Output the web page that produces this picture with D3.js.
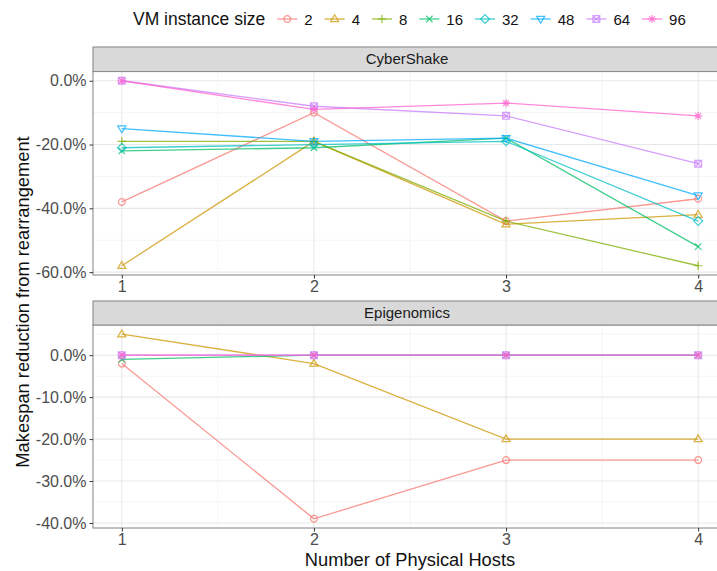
<!DOCTYPE html>
<html>
<head>
<meta charset="utf-8">
<script src="https://cdn.jsdelivr.net/npm/d3@7"></script>
<style>
  body { margin: 0; background: #fff; }
  text { font-family: "Liberation Sans", Arial, sans-serif; }
</style>
</head>
<body>
<svg id="chart" width="717" height="571"></svg>
<script>
  // values, in percent (null = no point drawn)
  var hosts = [1, 2, 3, 4];
  var vmSizes = ['2', '4', '8', '16', '32', '48', '64', '96'];
  var panelNames = ['CyberShake', 'Epigenomics'];
  // one row per VM size, one column per host count
  var cyberShakeValues = [
    [-38, -10, -44, -37],
    [-58, -19, -45, -42],
    [-19, -19, -44, -58],
    [-22, -21, -18, -52],
    [-21, -20, -19, -44],
    [-15, -19, -18, -36],
    [0, -8, -11, -26],
    [0, -9, -7, -11]
  ];
  var epigenomicsValues = [
    [-2, -39, -25, -25],
    [5, -2, -20, -20],
    [null, null, null, null],
    [-1, 0, 0, 0],
    [null, null, null, null],
    [null, null, null, null],
    [0, 0, 0, 0],
    [0, 0, 0, 0]
  ];
  var cyberShakeTicks = [0, -20, -40, -60];
  var epigenomicsTicks = [0, -10, -20, -30, -40];

  var svg = d3.select('#chart');
  var palette = ['#F8766D', '#CD9600', '#7CAE00', '#00BE67', '#00BFC4', '#00A9FF', '#C77CFF', '#FF61CC'];
  var color = d3.scaleOrdinal().domain(vmSizes).range(palette);

  var left = 93, right = 727;
  var panels = [
    { name: panelNames[0], values: cyberShakeValues, ticks: cyberShakeTicks, minor: 20, stripTop: 47, top: 71.5, bottom: 275 },
    { name: panelNames[1], values: epigenomicsValues, ticks: epigenomicsTicks, minor: 10, stripTop: 301, top: 325, bottom: 528 }
  ];

  var x = d3.scaleLinear().domain([1 - 0.15, 4 + 0.15]).range([left, right]);

  // ggplot style point shapes 1..8
  function shapePath(i) {
    var s = 3.4, p, q;
    switch (i) {
      case 0: return 'M' + (-s) + ',0a' + s + ',' + s + ' 0 1,0 ' + (2 * s) + ',0a' + s + ',' + s + ' 0 1,0 ' + (-2 * s) + ',0';
      case 1: p = s * 1.25; return 'M0,' + (-p) + 'L' + (p * 0.95) + ',' + (p * 0.62) + 'L' + (-p * 0.95) + ',' + (p * 0.62) + 'Z';
      case 2: p = s * 1.25; return 'M' + (-p) + ',0H' + p + 'M0,' + (-p) + 'V' + p;
      case 3: p = s * 0.95; return 'M' + (-p) + ',' + (-p) + 'L' + p + ',' + p + 'M' + (-p) + ',' + p + 'L' + p + ',' + (-p);
      case 4: p = s * 1.3; return 'M0,' + (-p) + 'L' + p + ',0L0,' + p + 'L' + (-p) + ',0Z';
      case 5: p = s * 1.25; return 'M0,' + p + 'L' + (p * 0.95) + ',' + (-p * 0.62) + 'L' + (-p * 0.95) + ',' + (-p * 0.62) + 'Z';
      case 6: p = s; return 'M' + (-p) + ',' + (-p) + 'H' + p + 'V' + p + 'H' + (-p) + 'Z' +
        'M' + (-p) + ',' + (-p) + 'L' + p + ',' + p + 'M' + (-p) + ',' + p + 'L' + p + ',' + (-p);
      default: p = s * 1.2; q = p * 0.72;
        return 'M' + (-p) + ',0H' + p + 'M0,' + (-p) + 'V' + p +
          'M' + (-q) + ',' + (-q) + 'L' + q + ',' + q + 'M' + (-q) + ',' + q + 'L' + q + ',' + (-q);
    }
  }

  panels.forEach(function(panel) {
    var all = d3.merge(panel.values).filter(function(d) { return d != null; });
    var ext = d3.extent(all), pad = (ext[1] - ext[0]) * 0.05;
    var y = d3.scaleLinear().domain([ext[0] - pad, ext[1] + pad]).range([panel.bottom, panel.top]);
    var g = svg.append('g');

    g.append('rect').attr('x', left).attr('y', panel.top).attr('width', right - left)
      .attr('height', panel.bottom - panel.top).attr('fill', '#fff');

    // minor grid
    var minorSet = d3.range(panel.ticks[0] + panel.minor / 2, y.domain()[1], panel.minor)
      .concat(d3.range(panel.ticks[0] - panel.minor / 2, y.domain()[0], -panel.minor));
    g.selectAll('.ymin').data(minorSet).enter().append('line')
      .attr('x1', left).attr('x2', right)
      .attr('y1', function(d) { return y(d); }).attr('y2', function(d) { return y(d); })
      .attr('stroke', '#F3F3F3').attr('stroke-width', 0.8);
    g.selectAll('.xmin').data([1.5, 2.5, 3.5]).enter().append('line')
      .attr('y1', panel.top).attr('y2', panel.bottom)
      .attr('x1', function(d) { return x(d); }).attr('x2', function(d) { return x(d); })
      .attr('stroke', '#F3F3F3').attr('stroke-width', 0.8);

    // major grid
    g.selectAll('.ymaj').data(panel.ticks).enter().append('line')
      .attr('x1', left).attr('x2', right)
      .attr('y1', function(d) { return y(d); }).attr('y2', function(d) { return y(d); })
      .attr('stroke', '#E8E8E8').attr('stroke-width', 1.1);
    g.selectAll('.xmaj').data(hosts).enter().append('line')
      .attr('y1', panel.top).attr('y2', panel.bottom)
      .attr('x1', function(d) { return x(d); }).attr('x2', function(d) { return x(d); })
      .attr('stroke', '#E8E8E8').attr('stroke-width', 1.1);

    // lines then points
    var line = d3.line().defined(function(d) { return d != null; })
      .x(function(d, i) { return x(hosts[i]); }).y(function(d) { return y(d); });
    g.selectAll('.series').data(panel.values).enter().append('path')
      .attr('d', line).attr('fill', 'none')
      .attr('stroke', function(d, i) { return color(vmSizes[i]); })
      .attr('stroke-width', 1.3).attr('stroke-opacity', 0.75);

    panel.values.forEach(function(row, si) {
      g.selectAll('.pt' + si).data(row.map(function(v, i) { return { h: hosts[i], v: v }; })
          .filter(function(d) { return d.v != null; }))
        .enter().append('path')
        .attr('transform', function(d) { return 'translate(' + x(d.h) + ',' + y(d.v) + ')'; })
        .attr('d', shapePath(si)).attr('fill', 'none')
        .attr('stroke', color(vmSizes[si])).attr('stroke-width', 1.2).attr('stroke-opacity', 0.75);
    });

    // border and strip
    g.append('rect').attr('x', left).attr('y', panel.top).attr('width', right - left)
      .attr('height', panel.bottom - panel.top).attr('fill', 'none').attr('stroke', '#8c8c8c').attr('stroke-width', 1.1);
    g.append('rect').attr('x', left).attr('y', panel.stripTop).attr('width', right - left)
      .attr('height', panel.top - panel.stripTop).attr('fill', '#D9D9D9').attr('stroke', '#8c8c8c').attr('stroke-width', 1.1);
    g.append('text').attr('x', (left + right) / 2 - 3).attr('y', (panel.stripTop + panel.top) / 2 + 5)
      .attr('text-anchor', 'middle').attr('font-size', 15).attr('fill', '#1A1A1A').text(panel.name);

    // y axis
    var yAxis = d3.axisLeft(y).tickValues(panel.ticks).tickSize(3.5).tickPadding(3)
      .tickFormat(function(d) { return d3.format('.1f')(d).replace('−', '-') + '%'; });
    var ya = g.append('g').attr('transform', 'translate(' + left + ',0)').call(yAxis);
    ya.select('.domain').remove();
    ya.selectAll('line').attr('stroke', '#333');
    ya.selectAll('text').attr('font-size', 16).attr('fill', '#4D4D4D');

    // x axis
    var xAxis = d3.axisBottom(x).tickValues(hosts).tickSize(3.5).tickPadding(2.5).tickFormat(d3.format('d'));
    var xa = g.append('g').attr('transform', 'translate(0,' + panel.bottom + ')').call(xAxis);
    xa.select('.domain').remove();
    xa.selectAll('line').attr('stroke', '#333');
    xa.selectAll('text').attr('font-size', 16).attr('fill', '#4D4D4D');
  });

  // axis titles
  svg.append('text').attr('x', 410).attr('y', 566).attr('text-anchor', 'middle')
    .attr('font-size', 18.3).attr('fill', '#111').text('Number of Physical Hosts');
  svg.append('text').attr('transform', 'translate(28.5,302) rotate(-90)').attr('text-anchor', 'middle')
    .attr('font-size', 18.3).attr('fill', '#111').text('Makespan reduction from rearrangement');

  // legend
  var legend = svg.append('g').attr('transform', 'translate(133,0)');
  var title = legend.append('text').attr('x', 0).attr('y', 25).attr('font-size', 17.5).attr('fill', '#111')
    .text('VM instance size');
  var cx = title.node().getComputedTextLength() + 12;
  vmSizes.forEach(function(s, i) {
    var k = legend.append('g').attr('transform', 'translate(' + cx + ',19)');
    k.append('line').attr('x1', 0).attr('x2', 20).attr('stroke', color(s)).attr('stroke-width', 1.3).attr('stroke-opacity', 0.75);
    k.append('path').attr('transform', 'translate(10,0)').attr('d', shapePath(i)).attr('fill', 'none')
      .attr('stroke', color(s)).attr('stroke-width', 1.2).attr('stroke-opacity', 0.75);
    var t = legend.append('text').attr('x', cx + 27).attr('y', 25).attr('font-size', 15).attr('fill', '#111').text(s);
    cx += 27 + t.node().getComputedTextLength() + 12;
  });
</script>
</body>
</html>
